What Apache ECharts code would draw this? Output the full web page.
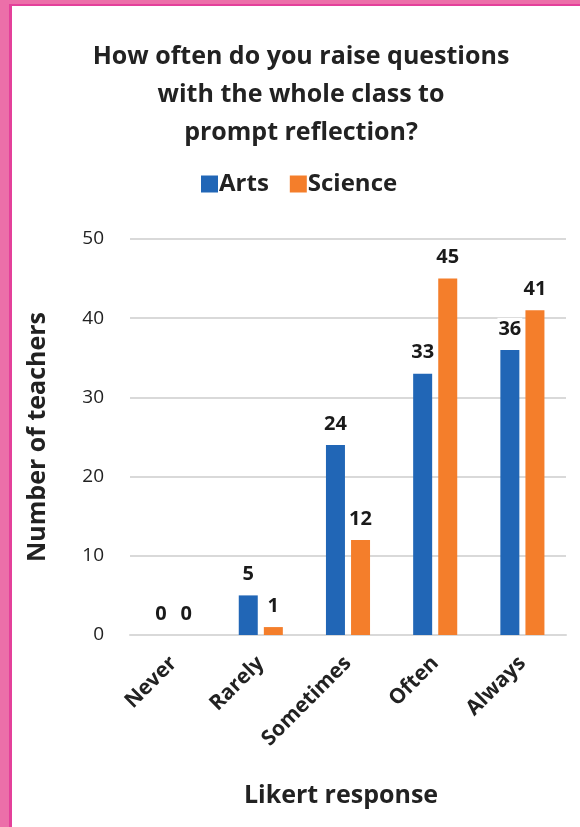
<!DOCTYPE html>
<html>
<head>
<meta charset="utf-8">
<script src="https://cdn.jsdelivr.net/npm/echarts@6/dist/echarts.min.js"></script>
<style>
  html, body { margin: 0; padding: 0; background: #ffffff; }
  #chart { width: 580px; height: 827px; }
</style>
</head>
<body>
<div id="chart"></div>
<script>
// Survey responses: how often teachers raise whole-class reflection questions
const categories = ['Never', 'Rarely', 'Sometimes', 'Often', 'Always'];
const artsCounts = [0, 5, 24, 33, 36];
const scienceCounts = [0, 1, 12, 45, 41];
const yTicks = [0, 10, 20, 30, 40, 50];

const FONT = '"Open Sans", Lato, sans-serif';
const BLUE = '#2166b6';
const ORANGE = '#f47e2b';

const chart = echarts.init(document.getElementById('chart'));

const valueLabel = {
  show: true,
  position: 'top',
  distance: 10,
  fontFamily: FONT,
  fontSize: 20,
  fontWeight: 'bold',
  color: '#1a1a1a',
  backgroundColor: '#ffffff',
  padding: [1, 1]
};

chart.setOption({
  backgroundColor: '#ffffff',
  animation: false,
  graphic: [
    { type: 'rect', shape: { x: 0, y: 0, width: 12, height: 827 }, style: { fill: '#ec6fa9' }, z: 100 },
    { type: 'rect', shape: { x: 0, y: 0, width: 580, height: 6 }, style: { fill: '#ec6fa9' }, z: 100 },
    { type: 'rect', shape: { x: 9, y: 4, width: 3, height: 823 }, style: { fill: '#e4409a' }, z: 101 },
    { type: 'rect', shape: { x: 9, y: 4, width: 571, height: 2 }, style: { fill: '#e4409a' }, z: 101 }
  ],
  title: {
    text: 'How often do you raise questions\nwith the whole class to\nprompt reflection?',
    left: 296,
    textAlign: 'center',
    top: 33,
    textStyle: {
      fontFamily: FONT,
      fontSize: 25,
      fontWeight: 'bold',
      color: '#222222',
      lineHeight: 38
    }
  },
  legend: {
    data: ['Arts', 'Science'],
    left: 196,
    top: 167,
    itemWidth: 17,
    itemHeight: 17,
    itemGap: 21,
    icon: 'rect',
    textStyle: {
      fontFamily: FONT,
      fontSize: 24,
      fontWeight: 'bold',
      color: '#222222',
      padding: [0, 0, 0, -4]
    }
  },
  grid: {
    left: 130,
    right: 14,
    top: 239,
    bottom: 827 - 635
  },
  xAxis: {
    type: 'category',
    data: categories,
    name: 'Likert response',
    nameLocation: 'middle',
    nameGap: 148,
    nameTextStyle: {
      fontFamily: FONT,
      fontSize: 25,
      fontWeight: 'bold',
      color: '#222222',
      padding: [0, 14, 0, 0]
    },
    axisLine: { lineStyle: { color: '#d9d9d9', width: 2 } },
    axisTick: { show: false },
    axisLabel: {
      rotate: 45,
      margin: 25,
      interval: 0,
      fontFamily: FONT,
      fontSize: 21,
      fontWeight: 'bold',
      color: '#222222'
    }
  },
  yAxis: {
    type: 'value',
    min: yTicks[0],
    max: yTicks[yTicks.length - 1],
    interval: yTicks[1] - yTicks[0],
    name: 'Number of teachers',
    nameLocation: 'middle',
    nameGap: 80,
    nameTextStyle: {
      fontFamily: FONT,
      fontSize: 25,
      fontWeight: 'bold',
      color: '#222222'
    },
    axisLine: { show: false },
    axisTick: { show: false },
    splitLine: { lineStyle: { color: '#d9d9d9', width: 2 } },
    axisLabel: {
      margin: 26,
      fontFamily: FONT,
      fontSize: 19,
      color: '#222222'
    }
  },
  series: [
    {
      name: 'Arts',
      type: 'bar',
      data: artsCounts,
      barWidth: 19,
      barGap: '32%',
      itemStyle: { color: BLUE },
      label: valueLabel
    },
    {
      name: 'Science',
      type: 'bar',
      data: scienceCounts,
      barWidth: 19,
      itemStyle: { color: ORANGE },
      label: valueLabel
    }
  ]
});
</script>
</body>
</html>
